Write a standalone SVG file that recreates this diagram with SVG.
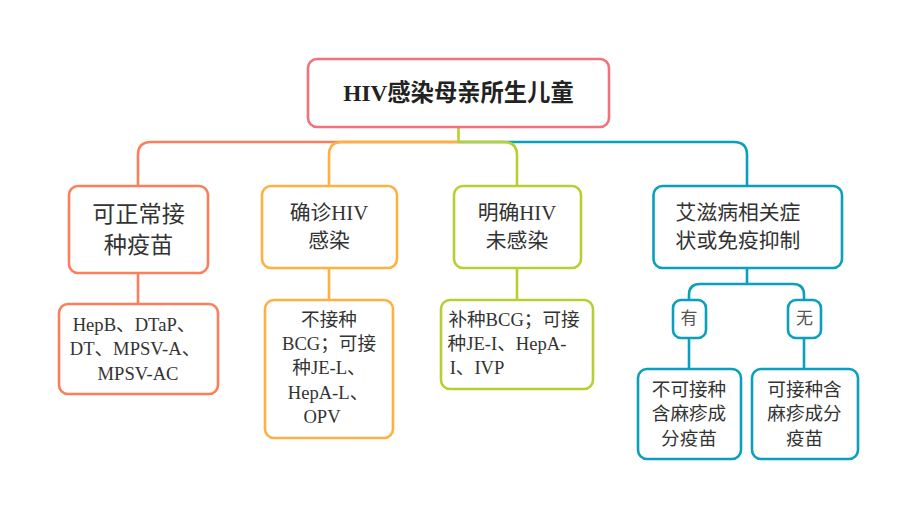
<svg xmlns="http://www.w3.org/2000/svg" width="916" height="517" viewBox="0 0 916 517">
<style>
text{font-family:"Liberation Serif","Noto Sans CJK SC",serif;fill:#333;text-anchor:middle}
.box{fill:#fff;stroke-width:2.6}
.l{fill:none;stroke-width:2.6}
.h1{font-size:23.300px;font-weight:700;fill:#222}
.h2{font-size:23.200px}
.c{font-size:20.800px}
.b{font-size:18.600px}
.s{font-size:17px;fill:#555}
.red{stroke:#f0727a}.or{stroke:#fd7e5a}.ye{stroke:#feb040}.gr{stroke:#b9ce32}.bl{stroke:#0aa0bd}
</style>
<rect width="916" height="517" fill="#fff"/>
<g id="connectors">
<path class="l bl" d="M458 142H734Q747 142 747 155V186"/>
<path class="l or" d="M458 142H151Q138 142 138 155V186"/>
<path class="l ye" d="M458 142H342Q329 142 329 155V186"/>
<path class="l gr" d="M458 142H504Q517 142 517 155V186"/>
<path class="l gr" d="M458.500 127V142"/>
<path class="l or" d="M138 273V304"/>
<path class="l ye" d="M329 268V300"/>
<path class="l gr" d="M517 268V300"/>
<path class="l bl" d="M747 268V284"/>
<path class="l bl" d="M689 300V295Q689 284 700 284H793Q804 284 804 295V300"/>
<path class="l bl" d="M689 338V369"/>
<path class="l bl" d="M804 338V369"/>
</g>
<g id="root"><rect class="box red" x="308" y="59" width="301" height="68" rx="9"/><text x="458.500" y="101" class="h1">HIV感染母亲所生儿童</text></g>
<g id="n1"><rect class="box or" x="69" y="186" width="139" height="87" rx="9"/><text x="138.500" y="222" class="h2">可正常接</text><text x="138.500" y="253" class="h2">种疫苗</text></g>
<g id="n2"><rect class="box ye" x="262" y="186" width="135" height="82" rx="9"/><text x="329" y="220" class="c">确诊HIV</text><text x="329" y="248" class="c">感染</text></g>
<g id="n3"><rect class="box gr" x="454" y="186" width="127" height="82" rx="9"/><text x="517" y="220" class="c">明确HIV</text><text x="517" y="248" class="c">未感染</text></g>
<g id="n4"><rect class="box bl" x="653.500" y="186" width="188.500" height="82" rx="9"/><text x="738" y="220" class="c">艾滋病相关症</text><text x="738" y="248" class="c">状或免疫抑制</text></g>
<g id="n1a"><rect class="box or" x="59" y="304" width="159" height="90" rx="9"/><text x="134" y="331" class="b">HepB、DTaP、</text><text x="135" y="355" class="b">DT、MPSV-A、</text><text x="138" y="380" class="b">MPSV-AC</text></g>
<g id="n2a"><rect class="box ye" x="265" y="300" width="128" height="138" rx="9"/><text x="329" y="326" class="b">不接种</text><text x="329" y="350" class="b">BCG；可接</text><text x="329" y="374" class="b">种JE-L、</text><text x="328" y="399" class="b">HepA-L、</text><text x="322" y="423" class="b">OPV</text></g>
<g id="n3a"><rect class="box gr" x="441" y="300" width="152" height="89" rx="9"/><text x="514" y="326" class="b">补种BCG；可接</text><text x="507" y="350" class="b">种JE-I、HepA-</text><text x="477" y="374" class="b">I、IVP</text></g>
<g id="yes"><rect class="box bl" x="673" y="300" width="33" height="38" rx="8"/><text x="689" y="324" class="s">有</text></g>
<g id="no"><rect class="box bl" x="788" y="300" width="33" height="38" rx="8"/><text x="804.500" y="324" class="s">无</text></g>
<g id="y1"><rect class="box bl" x="638" y="369" width="103" height="90" rx="9"/><text x="689" y="396" class="b">不可接种</text><text x="689" y="420" class="b">含麻疹成</text><text x="689" y="445" class="b">分疫苗</text></g>
<g id="n1b"><rect class="box bl" x="752" y="369" width="106" height="90" rx="9"/><text x="804.500" y="396" class="b">可接种含</text><text x="804.500" y="420" class="b">麻疹成分</text><text x="804.500" y="445" class="b">疫苗</text></g>
</svg>
